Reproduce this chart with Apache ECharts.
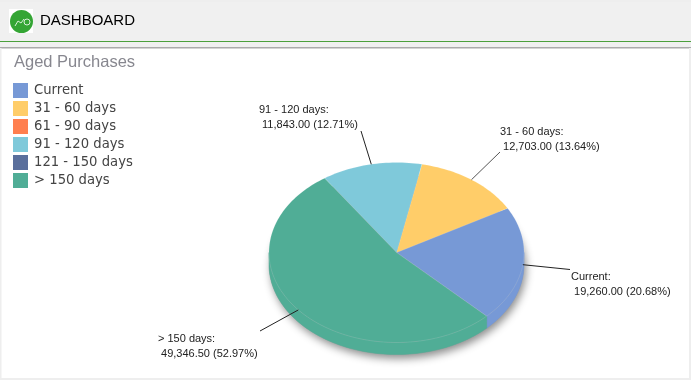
<!DOCTYPE html>
<html><head><meta charset="utf-8">
<style>html,body{margin:0;padding:0;background:#fff}#c{width:691px;height:380px}</style>
<script src="https://cdn.jsdelivr.net/npm/echarts@6/dist/echarts.min.js"></script>
</head><body><div id="c"></div>
<script>
const categories = ['Current','31 - 60 days','61 - 90 days','91 - 120 days','121 - 150 days','> 150 days'];
const values = [19260.00, 12703.00, 0, 11843.00, 0, 49346.50];
const colors = ['#7799d6','#ffcd69','#ff7f4f','#7fc9da','#5a6f9c','#50ad96'];
const total = values.reduce((a,b)=>a+b,0);
const CX=396.5, CY=252.5, RX=127.5, RY=90, DEPTH=12, START=-45;
const rad = d => d*Math.PI/180;
const pt = (a,dy=0) => [CX+RX*Math.cos(rad(a)), CY+dy-RY*Math.sin(rad(a))];
const fmt = v => v.toLocaleString('en-US',{minimumFractionDigits:2,maximumFractionDigits:2});
const labelPos = {0:{ax:570,ay:269.5,tx:571,ty:270},1:{ax:500,ay:152,tx:500,ty:125},3:{ax:361,ay:131,tx:259,ty:103},5:{ax:260,ay:331,tx:158,ty:332}};
const textStyle = {fontFamily:'"Liberation Sans",Arial,sans-serif',fontSize:11,fill:'#222',lineHeight:14.5};

function angles(i){
  let s=START; for(let k=0;k<i;k++) s+=values[k]/total*360;
  return [s,s+values[i]/total*360];
}
function arc(a0,a1,dy=0){const n=Math.max(2,Math.ceil((a1-a0)/1.5));const p=[];for(let k=0;k<=n;k++)p.push(pt(a0+(a1-a0)*k/n,dy));return p;}
function render(i){
  return function(params,api){
    const v=api.value(0); if(!v) return {type:'group',children:[]};
    const [a0,a1]=angles(i), c=colors[i], ch=[];
    for(const off of [0,360,-360]){
      const f0=Math.max(a0+off,180), f1=Math.min(a1+off,360);
      if(f1>f0){
        const top=arc(f0,f1), bot=arc(f0,f1,DEPTH).reverse();
        ch.push({type:'polygon',shape:{points:top.concat(bot)},style:{fill:c,stroke:c,lineWidth:.5}});
      }
    }
    ch.push({type:'polygon',shape:{points:[[CX,CY]].concat(arc(a0,a1))},style:{fill:c,stroke:'rgba(255,255,255,.15)',lineWidth:.8}});
    const m=(a0+a1)/2, l=labelPos[i];
    ch.push({type:'line',shape:{x1:pt(m)[0],y1:pt(m)[1],x2:l.ax,y2:l.ay},style:{stroke:i===1?'#555':'#222',lineWidth:1}});
    ch.push({type:'text',style:Object.assign({x:l.tx,y:l.ty,text:categories[i]+':\n '+fmt(v)+' ('+(v/total*100).toFixed(2)+'%)'},textStyle)});
    return {type:'group',children:ch};
  };
}
const series = categories.map((name,i)=>({
  type:'custom',name,coordinateSystem:'none',silent:true,z:3+(i===5?1:0),
  itemStyle:{color:colors[i]},data:[[values[i]]],renderItem:render(i),clip:false
}));
const rect=(x,y,w,h,fill)=>({type:'rect',shape:{x,y,width:w,height:h},style:{fill},silent:true});
const chart=echarts.init(document.getElementById('c'),null,{renderer:'canvas'});
chart.setOption({
  animation:false,backgroundColor:'#fff',color:colors,
  title:{text:'Aged Purchases',left:9,top:49,textStyle:{fontFamily:'"Liberation Sans",Arial,sans-serif',fontSize:16.5,fontWeight:'normal',color:'#87878f'}},
  legend:{orient:'vertical',left:8,top:78,itemWidth:15,itemHeight:15,itemGap:3,icon:'rect',selectedMode:false,
    data:categories,textStyle:{fontFamily:'"DejaVu Sans",Verdana,sans-serif',fontSize:13.2,color:'#444',padding:[0,0,0,1]}},
  graphic:{elements:[
    rect(0,0,691,2,'#eeeeee'),rect(0,2,691,39,'#f0f0f0'),rect(0,41,691,1,'#4ba03c'),
    rect(0,42,691,5,'#f0f0f0'),rect(0,47,691,1.5,'#aaaaaa'),
    rect(0,48,1.5,332,'#eeeeee'),rect(689,48,2,332,'#eeeeee'),rect(0,378,691,2,'#eeeeee'),
    rect(9,9,24,24,'#ffffff'),
    {type:'circle',shape:{cx:21.5,cy:21.5,r:11.5},style:{fill:'#34a534'},silent:true},
    {type:'polyline',shape:{points:[[15,26],[18,21],[21,23],[24,19]]},style:{stroke:'#d8efd8',fill:'none',lineWidth:1},silent:true},
    {type:'circle',shape:{cx:27,cy:22,r:3},style:{stroke:'#d8efd8',fill:'none',lineWidth:1},silent:true},
    {type:'text',style:{x:40,y:13.5,text:'DASHBOARD',fontFamily:'"Liberation Sans",Arial,sans-serif',fontSize:15,fill:'#000'},silent:true},
    {type:'ellipse',shape:{cx:CX,cy:CY+DEPTH,rx:RX,ry:RY},z:1,style:{fill:'#999',shadowColor:'rgba(0,0,0,.45)',shadowBlur:9,shadowOffsetX:2,shadowOffsetY:4},silent:true}
  ]},
  series
});
</script></body></html>
